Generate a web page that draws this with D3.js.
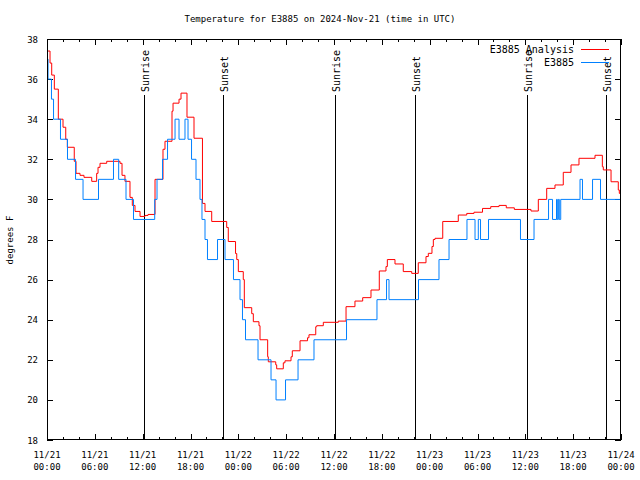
<!DOCTYPE html>
<html><head><meta charset="utf-8">
<script src="https://cdn.jsdelivr.net/npm/d3@7"></script>
<style>
body{margin:0;background:#fff}
svg{display:block}
text{font-family:"DejaVu Sans Mono","Liberation Mono",monospace;font-size:9px;fill:#000}
</style>
</head><body>
<svg id="c" width="640" height="480"></svg>
<script>
const title = "Temperature for E3885 on 2024-Nov-21 (time in UTC)";
const yLabel = "degrees F";
const seriesNames = ["E3885 Analysis", "E3885"];
const seriesColors = ["#ff0000", "#0080ff"];
const startTime = "2024-11-21T00:00:00Z";
const endTime = "2024-11-24T00:00:00Z";

// hours since 2024-11-21 00:00 UTC
const analysisHours = [0,0.38,0.59,0.92,1.42,2.01,2.35,2.55,3.42,3.64,4.14,4.64,5.61,6.23,6.4,6.65,7.49,9.16,9.41,9.78,10.41,10.7,11.04,11.67,12.29,12.67,13.55,14.55,14.8,15.68,15.81,16.56,16.81,17.56,18.44,19.5,19.82,20.66,22.54,22.74,23.65,23.8,24.0,24.62,24.75,25.68,25.88,26.59,26.72,27.68,27.76,28.69,28.81,29.64,29.85,30.61,30.77,31.74,32.68,32.86,33.71,33.83,34.66,36.54,37.51,38.63,39.6,40.64,41.68,42.52,42.69,43.65,44.69,45.75,46.57,47.54,47.83,48.29,48.46,48.67,49.64,51.59,52.65,53.56,54.63,55.66,56.7,57.61,58.62,60.71,61.63,62.68,63.72,64.76,65.73,66.73,68.74,69.66,69.78,70.75,71.66,71.79,72];
const analysisTemps = [37.4,36.8,36.2,35.5,34.0,33.6,33.0,32.6,31.9,31.3,31.2,31.1,30.9,31.3,31.6,31.8,31.9,31.8,31.2,30.9,30.1,29.7,29.4,29.15,29.2,29.25,31.0,32.5,32.9,34.4,34.8,35.0,35.3,34.1,33.05,29.8,29.4,28.9,28.6,27.9,27.3,27.0,26.4,26.0,24.6,24.3,23.9,23.7,23.0,22.15,21.9,21.75,21.55,21.85,21.95,22.15,22.45,22.95,23.1,23.25,23.65,23.7,23.87,23.93,24.65,24.93,25.1,25.48,26.43,26.65,27.0,26.78,26.4,26.31,26.84,27.15,27.31,27.65,28.0,28.06,28.9,29.22,29.3,29.36,29.55,29.64,29.7,29.58,29.5,29.42,30.0,30.55,30.72,31.35,31.72,32.05,32.2,31.63,31.47,30.88,30.47,30.3,30.3];

const obsHours = [0,0.13,0.56,0.82,1.69,2.57,3.58,4.52,6.46,8.34,8.99,9.91,10.85,13.51,13.8,14.49,15.12,16.06,16.56,17.31,17.69,18.13,18.69,19.19,19.44,19.82,20.13,21.39,22.33,23.39,24.21,24.52,24.9,26.47,28.1,28.73,29.92,31.49,33.49,37.57,41.39,42.59,42.9,46.6,49.17,50.43,52.68,53.69,54.1,54.38,55.38,59.39,61.09,62.91,63.41,63.91,64.01,64.14,64.26,64.44,66.86,67.17,68.43,69.43,72];
const obsTemps = [37,36,35,34,33,32,31,30,31,32,31,30,29,30,31,32,33,34,33,34,33,32,31,30,29,28,27,28,27,26,25,24,23,22,21,20,21,22,23,24,25,26,25,26,27,28,29,28,29,28,29,28,29,30,29,30,29,30,29,30,31,30,31,30,30];

const sunLabels = ["Sunrise","Sunset","Sunrise","Sunset","Sunrise","Sunset"];
const sunTimes = ["2024-11-21T12:12Z","2024-11-21T22:07Z","2024-11-22T12:10Z","2024-11-22T22:12Z","2024-11-23T12:15Z","2024-11-23T22:07Z"];

const yTicks = [18,20,22,24,26,28,30,32,34,36,38];
const xMajorHours = [0,6,12,18,24,30,36,42,48,54,60,66,72];
const xMinorHours = [2,4,8,10,14,16,20,22,26,28,32,34,38,40,44,46,50,52,56,58,62,64,68,70];

const L = 47, R = 621, T = 39, B = 440;
const t0 = new Date(startTime).getTime();
const toDate = h => new Date(t0 + h * 3600e3);

const svg = d3.select("#c");
const x = d3.scaleUtc().domain([new Date(startTime), new Date(endTime)]).range([L, R]);
const y = d3.scaleLinear().domain([18, 38]).range([B, T]);

svg.append("rect").attr("width",640).attr("height",480).attr("fill","#fff");

// title & y label
svg.append("text").attr("x",320).attr("y",22).attr("text-anchor","middle").text(title);
svg.append("text").attr("transform","translate(13,240) rotate(-90)").attr("text-anchor","middle").text(yLabel);

function styleAxis(g){
  g.select(".domain").remove();
  g.selectAll("line").attr("stroke","#000").attr("shape-rendering","crispEdges");
  g.selectAll("text").remove();
}
const majD = xMajorHours.map(toDate), minD = xMinorHours.map(toDate);
svg.append("g").attr("transform",`translate(0,${B})`).call(d3.axisBottom(x).tickValues(majD).tickSize(-6).tickFormat("")).call(styleAxis);
svg.append("g").attr("transform",`translate(0,${B})`).call(d3.axisBottom(x).tickValues(minD).tickSize(-3).tickFormat("")).call(styleAxis);
svg.append("g").attr("transform",`translate(0,${T})`).call(d3.axisTop(x).tickValues(majD).tickSize(-6).tickFormat("")).call(styleAxis);
svg.append("g").attr("transform",`translate(0,${T})`).call(d3.axisTop(x).tickValues(minD).tickSize(-3).tickFormat("")).call(styleAxis);
svg.append("g").attr("transform",`translate(${L},0)`).call(d3.axisLeft(y).tickValues(yTicks).tickSize(-6).tickFormat("")).call(styleAxis);
svg.append("g").attr("transform",`translate(${R},0)`).call(d3.axisRight(y).tickValues(yTicks).tickSize(-6).tickFormat("")).call(styleAxis);

// tick labels
const fmtD = d3.utcFormat("%m/%d"), fmtT = d3.utcFormat("%H:%M");
const xl = svg.append("g");
majD.forEach(d => {
  xl.append("text").attr("x",x(d)).attr("y",458).attr("text-anchor","middle").text(fmtD(d));
  xl.append("text").attr("x",x(d)).attr("y",470).attr("text-anchor","middle").text(fmtT(d));
});
yTicks.forEach(v => {
  svg.append("text").attr("x",38).attr("y",y(v)+3.5).attr("text-anchor","end").text(v);
});

// clip
svg.append("clipPath").attr("id","clip").append("rect").attr("x",L).attr("y",T).attr("width",R-L).attr("height",B-T);

// sun lines
sunTimes.forEach((s,i) => {
  const d = new Date(s), px = Math.round(x(d)) + 0.5;
  svg.append("line").attr("x1",px).attr("x2",px).attr("y1",95).attr("y2",B).attr("stroke","#000").attr("stroke-width",1);
  svg.append("text").attr("transform",`translate(${px+4.5},92) rotate(-90)`).attr("text-anchor","start")
    .style("font-size","10px").text(sunLabels[i]);
});

// series
const line = d3.line().x(d => x(d[0])).y(d => y(d[1])).curve(d3.curveStepAfter);
const plotG = svg.append("g").attr("clip-path","url(#clip)");
const series = [
  analysisHours.map((h,i) => [toDate(h), analysisTemps[i]]),
  obsHours.map((h,i) => [toDate(h), obsTemps[i]])
];
[0,1].forEach(k => {
  plotG.append("path").datum(series[k]).attr("d", line).attr("fill","none")
    .attr("stroke", seriesColors[k]).attr("stroke-width",1);
});

// frame
svg.append("rect").attr("x",L+0.5).attr("y",T+0.5).attr("width",R-L-1).attr("height",B-T-1)
  .attr("fill","none").attr("stroke","#000").attr("shape-rendering","crispEdges");

// legend
const leg = [[53,49.5],[66,62.5]];
seriesNames.forEach((n,i) => {
  svg.append("text").attr("x",574).attr("y",leg[i][0]).attr("text-anchor","end").style("font-size","10px").text(n);
  svg.append("line").attr("x1",581).attr("x2",609).attr("y1",leg[i][1]).attr("y2",leg[i][1])
    .attr("stroke",seriesColors[i]).attr("stroke-width",1);
});
</script>
</body></html>
